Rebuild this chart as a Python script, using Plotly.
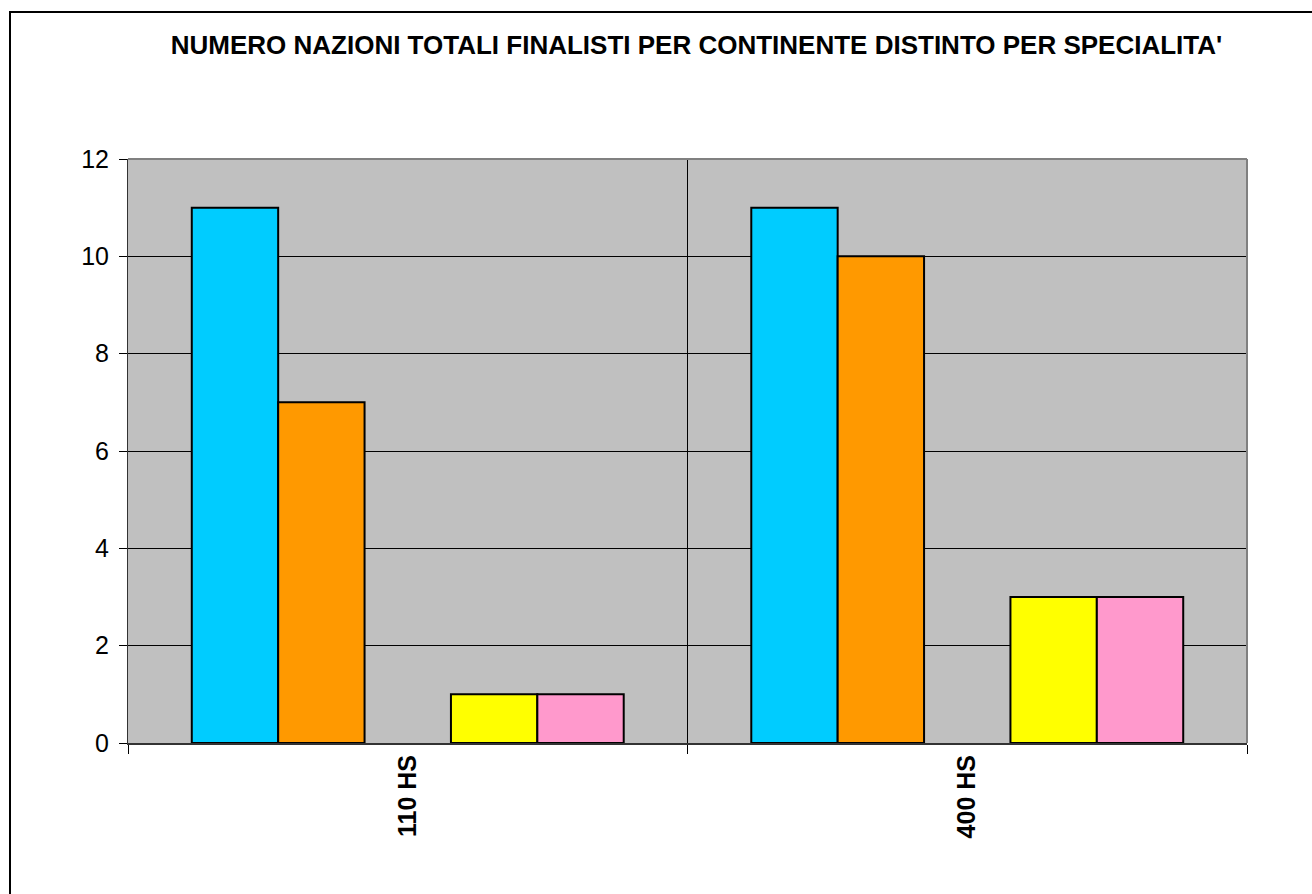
import plotly.graph_objects as go

# Finalist nations per continent, split by event
specialita = ["110 HS", "400 HS"]
continenti = ["Europa", "America", "Oceania", "Asia", "Africa"]
europa = [11, 11]
america = [7, 10]
oceania = [0, 0]
asia = [1, 3]
africa = [1, 3]

serie = [europa, america, oceania, asia, africa]
colori = ["#00CCFF", "#FF9900", "#9999FF", "#FFFF00", "#FF99CC"]

W, H = 1312, 894
L, R, T, B = 128, 1247, 159, 743

fig = go.Figure()
for nome, valori, colore in zip(continenti, serie, colori):
    fig.add_trace(go.Bar(
        x=specialita, y=valori, name=nome,
        marker=dict(color=colore,
                    line=dict(color="black", width=2 if any(valori) else 0)),
    ))

def px_x(p):
    return (p - L) / (R - L)

def px_y(p):
    return (B - p) / (B - T)

shapes = [
    # plot-area border (top and right) in grey
    dict(type="line", xref="paper", yref="paper", x0=0, x1=1, y0=1, y1=1,
         line=dict(color="#808080", width=2), layer="above"),
    dict(type="line", xref="paper", yref="paper", x0=1, x1=1, y0=0, y1=1,
         line=dict(color="#808080", width=2), layer="above"),
    # outer chart frame
    dict(type="line", xref="paper", yref="paper", x0=px_x(9), x1=px_x(W + 5),
         y0=px_y(12), y1=px_y(12), line=dict(color="black", width=2)),
    dict(type="line", xref="paper", yref="paper", x0=px_x(10), x1=px_x(10),
         y0=px_y(12), y1=px_y(H + 5), line=dict(color="black", width=2)),
]

fig.update_layout(
    width=W, height=H,
    margin=dict(l=L, r=W - R, t=T, b=H - B, pad=0),
    paper_bgcolor="white",
    plot_bgcolor="#C0C0C0",
    barmode="group",
    bargap=0.228,
    bargroupgap=0,
    showlegend=False,
    font=dict(family="Liberation Sans, Arial, sans-serif", color="black"),
    title=dict(
        text="<b>NUMERO NAZIONI TOTALI FINALISTI PER CONTINENTE DISTINTO PER SPECIALITA'</b>",
        font=dict(size=26, color="black"),
        xref="container", yref="container",
        x=696.5 / W, y=1 - 45 / H, xanchor="center", yanchor="middle",
    ),
    xaxis=dict(
        type="category",
        range=[-0.5, 1.5],
        tickson="boundaries",
        ticks="outside", ticklen=9, tickcolor="black", tickwidth=1,
        showgrid=True, gridcolor="black", gridwidth=1,
        showline=True, linecolor="#333333", linewidth=2,
        tickangle=-90,
        tickfont=dict(size=25, family="Liberation Sans, Arial, sans-serif"),
        tickprefix="<b>", ticksuffix="</b>",
        ticklabelstandoff=0,
    ),
    yaxis=dict(
        range=[0, 12], dtick=2,
        ticks="outside", ticklen=8, tickcolor="black", tickwidth=1,
        showgrid=True, gridcolor="black", gridwidth=1,
        showline=True, linecolor="#333333", linewidth=1,
        zeroline=False,
        tickfont=dict(size=25),
        ticklabelstandoff=5,
    ),
    shapes=shapes,
)

fig.write_html("out.html")
